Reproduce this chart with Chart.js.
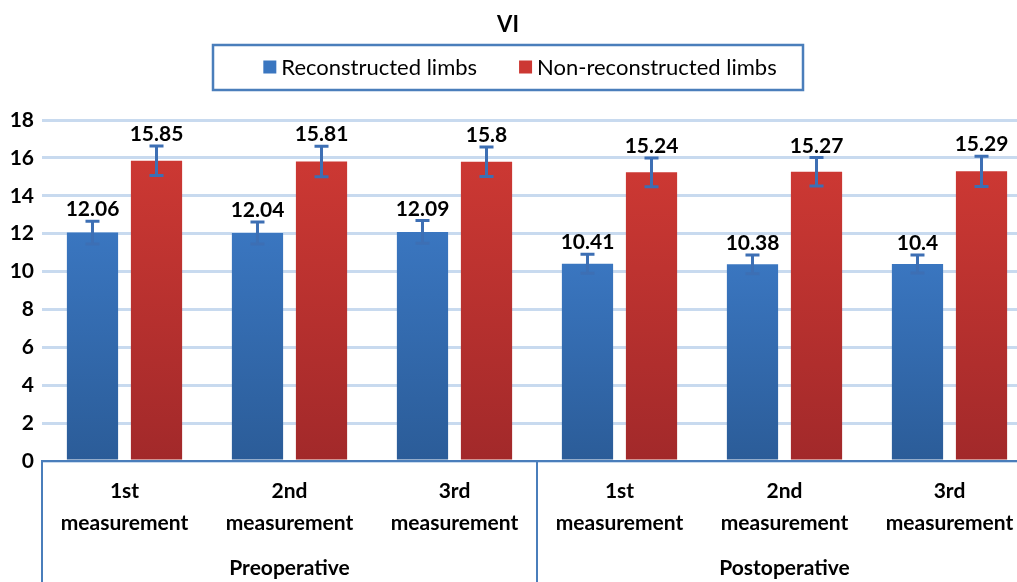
<!DOCTYPE html>
<html>
<head>
<meta charset="utf-8">
<script src="https://cdn.jsdelivr.net/npm/chart.js@4.4.0/dist/chart.umd.min.js"></script>
<style>
  html, body { margin: 0; padding: 0; background: #fff; overflow: hidden; }
  #wrap { width: 1035px; height: 582px; }
</style>
</head>
<body>
<div id="wrap"><canvas id="chart_vi" width="1035" height="582"></canvas></div>
<script>
var titleText = 'VI'
var categories = [['1st', 'measurement'], ['2nd', 'measurement'], ['3rd', 'measurement'],
                  ['1st', 'measurement'], ['2nd', 'measurement'], ['3rd', 'measurement']]
var groups = ['Preoperative', 'Postoperative']
var seriesNames = ['Reconstructed limbs', 'Non-reconstructed limbs']
var reconstructed = [12.06, 12.04, 12.09, 10.41, 10.38, 10.4]
var nonReconstructed = [15.85, 15.81, 15.8, 15.24, 15.27, 15.29]
var reconstructedSD = [0.6, 0.58, 0.6, 0.5, 0.5, 0.48]
var nonReconstructedSD = [0.78, 0.8, 0.78, 0.76, 0.75, 0.8]
var yTicks = [0, 2, 4, 6, 8, 10, 12, 14, 16, 18]

var cores = ['#3a76c0', '#cc3833']
var coresDark = ['#2b5c98', '#a2292a']
var errColor = '#3d6fb4'
var boxColor = '#4a7ebb'
var fontName = 'Lato, "Open Sans", sans-serif'

function barGradient(index) {
    return function(context) {
        var chart = context.chart
        if (!chart.chartArea || !chart.scales.y) return cores[index]
        var y = chart.scales.y
        var g = chart.ctx.createLinearGradient(0, y.getPixelForValue(0), 0, y.getPixelForValue(context.raw || 0))
        g.addColorStop(0, coresDark[index])
        g.addColorStop(1, cores[index])
        return g
    }
}

// header: title + boxed legend
var headerPlugin = {
    id: 'header',
    afterDraw: function(chart) {
        var c = chart.ctx
        var cx = 508
        c.save()
        c.fillStyle = '#000'
        c.textAlign = 'center'
        c.textBaseline = 'middle'
        c.font = 'bold 22px ' + fontName
        c.fillText(titleText, cx, 25)

        c.font = '22px ' + fontName
        var sq = 13, gapTxt = 5, gapItem = 42
        var w0 = c.measureText(seriesNames[0]).width
        var w1 = c.measureText(seriesNames[1]).width
        var total = sq + gapTxt + w0 + gapItem + sq + gapTxt + w1
        var x = cx + 12 - total / 2
        var yMid = 67
        c.strokeStyle = boxColor
        c.lineWidth = 2.5
        c.strokeRect(213, 45, 590, 45)
        c.textAlign = 'left'
        for (var i = 0; i < 2; i++) {
            c.fillStyle = cores[i]
            c.fillRect(x, yMid - sq / 2, sq, sq)
            c.fillStyle = '#000'
            c.fillText(seriesNames[i], x + sq + gapTxt, yMid + 1)
            x += sq + gapTxt + (i == 0 ? w0 : w1) + gapItem
        }
        c.restore()
    }
}

// error bars, value labels, group labels and box lines
var extrasPlugin = {
    id: 'extras',
    afterDatasetsDraw: function(chart) {
        var c = chart.ctx
        var y = chart.scales.y
        var xs = chart.scales.x
        var sds = [reconstructedSD, nonReconstructedSD]
        c.save()
        chart.data.datasets.forEach(function(ds, di) {
            var meta = chart.getDatasetMeta(di)
            meta.data.forEach(function(bar, i) {
                var v = ds.data[i], sd = sds[di][i]
                var top = y.getPixelForValue(v + sd)
                var bot = y.getPixelForValue(v - sd)
                c.strokeStyle = errColor
                c.lineWidth = 3
                c.beginPath()
                c.moveTo(bar.x, top); c.lineTo(bar.x, bot)
                c.moveTo(bar.x - 7, top); c.lineTo(bar.x + 7, top)
                c.moveTo(bar.x - 7, bot); c.lineTo(bar.x + 7, bot)
                c.stroke()
                c.fillStyle = '#000'
                c.font = 'bold 21px ' + fontName
                c.textAlign = 'center'
                c.textBaseline = 'alphabetic'
                c.fillText(String(v), bar.x, top - 5)
            })
        })

        // x axis box lines
        var area = chart.chartArea
        var h = chart.height
        c.strokeStyle = boxColor
        c.lineWidth = 2
        var mid = (xs.getPixelForTick(2) + xs.getPixelForTick(3)) / 2
        ;[area.left, mid, area.right].forEach(function(px) {
            c.beginPath(); c.moveTo(px, area.bottom); c.lineTo(px, h); c.stroke()
        })
        c.beginPath(); c.moveTo(area.left - 1, area.bottom); c.lineTo(area.right, area.bottom); c.stroke()

        c.fillStyle = '#000'
        c.font = 'bold 21px ' + fontName
        c.textAlign = 'center'
        c.textBaseline = 'middle'
        c.fillText(groups[0], xs.getPixelForTick(1), 568)
        c.fillText(groups[1], xs.getPixelForTick(4), 568)
        c.restore()
    }
}

var ctx = document.getElementById('chart_vi')

var chartVI = new Chart(ctx, {
    type: 'bar',
    data: {
        labels: categories,
        datasets: [
            {
                label: seriesNames[0],
                data: reconstructed,
                backgroundColor: barGradient(0),
                categoryPercentage: 0.776,
                barPercentage: 0.8
            },
            {
                label: seriesNames[1],
                data: nonReconstructed,
                backgroundColor: barGradient(1),
                categoryPercentage: 0.776,
                barPercentage: 0.8
            }
        ]
    },
    options: {
        responsive: false,
        animation: false,
        layout: { padding: { top: 120, right: 3, left: 0, bottom: 0 } },
        plugins: {
            legend: { display: false },
            title: { display: false },
            tooltip: { enabled: false }
        },
        scales: {
            y: {
                min: 0,
                max: 18,
                afterBuildTicks: function(scale) {
                    scale.ticks = yTicks.map(function(v) { return { value: v } })
                },
                afterFit: function(scale) { scale.width = 42 },
                border: { display: false },
                grid: { color: '#c8daef', lineWidth: 3, drawTicks: false },
                ticks: {
                    color: '#000',
                    padding: 8,
                    font: { family: fontName, size: 21, weight: 'bold' }
                }
            },
            x: {
                afterFit: function(scale) { scale.height = 121 },
                border: { display: false },
                grid: { display: false },
                ticks: {
                    color: '#000',
                    padding: 6,
                    maxRotation: 0,
                    font: { family: fontName, size: 21, weight: 'bold', lineHeight: 1.52 }
                }
            }
        }
    },
    plugins: [headerPlugin, extrasPlugin]
});
</script>
</body>
</html>
